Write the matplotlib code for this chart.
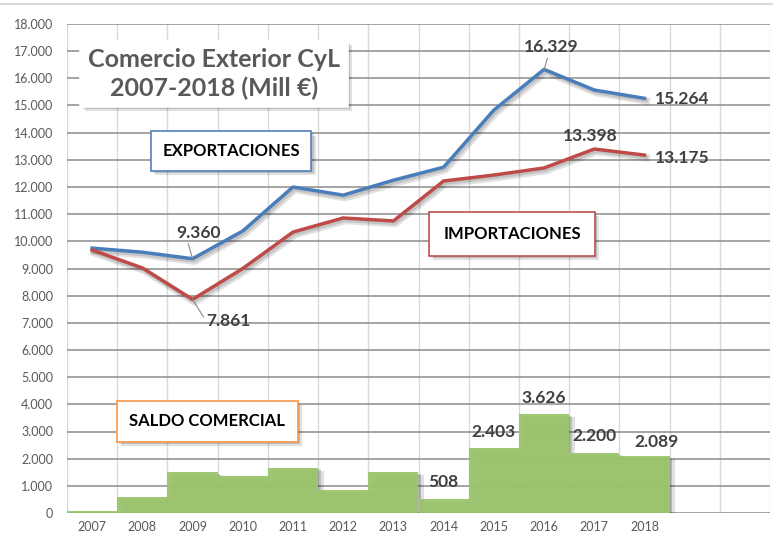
import matplotlib
matplotlib.use("Agg")
import matplotlib.pyplot as plt
import matplotlib.patheffects as pe
from matplotlib.ticker import FuncFormatter, FixedLocator
import numpy as np

plt.rcParams['font.family'] = ['Lato', 'DejaVu Sans']

years = ['2007', '2008', '2009', '2010', '2011', '2012', '2013', '2014', '2015', '2016', '2017', '2018']
exportaciones = [9750, 9600, 9360, 10380, 12000, 11700, 12250, 12730, 14830, 16329, 15570, 15264]
importaciones = [9680, 9020, 7861, 9000, 10340, 10860, 10750, 12220, 12440, 12700, 13398, 13175]
saldo = [70, 590, 1500, 1380, 1660, 830, 1500, 508, 2403, 3626, 2200, 2089]
n_slots = 14

fig = plt.figure(figsize=(7.73, 5.33), dpi=100)
ax = fig.add_axes([67/773, 1-513/533, (770-67)/773, (513-24)/533])

x = np.arange(len(years))
green = '#9bc46c'
blue = '#4a7ebb'
red = '#be4b48'

shadow_line = [pe.SimpleLineShadow(offset=(1.5, -2), alpha=0.12, shadow_color='k', linewidth=5),
               pe.SimpleLineShadow(offset=(1, -1.5), alpha=0.12, shadow_color='k', linewidth=3),
               pe.Normal()]
shadow_patch = [pe.SimplePatchShadow(offset=(4, -2), alpha=0.12, shadow_rgbFace='k'),
                pe.SimplePatchShadow(offset=(2, -1), alpha=0.15, shadow_rgbFace='k'),
                pe.Normal()]

bars = ax.bar(x, saldo, width=1.0, color=green, zorder=3, alpha=0.95, linewidth=0)
for b in bars:
    b.set_path_effects(shadow_patch)

ax.plot(x, exportaciones, color=blue, lw=2.5, zorder=5, path_effects=shadow_line, solid_joinstyle='round')
ax.plot(x, importaciones, color=red, lw=2.5, zorder=5, path_effects=shadow_line, solid_joinstyle='round')

ax.set_xlim(-0.5, n_slots - 0.5)
ax.set_ylim(0, 18000)
ax.set_yticks(np.arange(0, 18001, 1000))
ax.yaxis.set_major_formatter(FuncFormatter(lambda v, p: f"{int(v):,}".replace(',', '.')))
ax.set_xticks(x)
ax.set_xticklabels(years)
ax.xaxis.set_minor_locator(FixedLocator(np.arange(-0.5, n_slots, 1.0)))
ax.tick_params(axis='both', which='both', length=0, labelsize=9, labelcolor='#595959')
ax.tick_params(axis='y', pad=10)
ax.tick_params(axis='x', pad=6)
ax.grid(axis='y', which='major', color='#8c8c8c', lw=1.1, zorder=2)
ax.grid(axis='x', which='minor', color='#d9d9d9', lw=1.0, zorder=1)
ax.set_axisbelow(True)
for s in ax.spines.values():
    s.set_visible(False)

lab = dict(fontsize=12.5, fontweight='bold', color='#404040', ha='center', va='center', zorder=10)

def ann(xi, yv, txt, dx, dy, leader=None):
    kw = {}
    if leader is not None:
        kw['arrowprops'] = dict(arrowstyle='-', color='#8c8c8c', lw=0.8, shrinkA=0, shrinkB=0,
                                relpos=leader)
    ax.annotate(txt, (xi, yv), xytext=(dx, dy), textcoords='offset pixels', **lab, **kw)

fmt = lambda v: f"{v:,}".replace(',', '.')
ann(2, exportaciones[2], fmt(exportaciones[2]), 6, 26, leader=(0.25, 0.0))
ann(2, importaciones[2], fmt(importaciones[2]), 36, -22, leader=(0.0, 0.5))
ann(9, exportaciones[9], fmt(exportaciones[9]), 7, 22, leader=(0.45, 0.0))
ann(11, exportaciones[11], fmt(exportaciones[11]), 38, -1)
ann(10, importaciones[10], fmt(importaciones[10]), -4, 13)
ann(11, importaciones[11], fmt(importaciones[11]), 38, -3)
bar_offsets = {7: (0, 17), 8: (0, 16), 9: (0, 16), 10: (0, 17), 11: (12, 14)}
for i, (dx, dy) in bar_offsets.items():
    ann(i, saldo[i], fmt(saldo[i]), dx, dy)

def boxtext(cx, cy, txt, fs, color, edge, pad, fw='bold', ls=1.0):
    t = fig.text(cx/773, 1-cy/533, txt, fontsize=fs, fontweight=fw, color=color,
                 ha='center', va='center', zorder=20, linespacing=ls,
                 bbox=dict(boxstyle=f'square,pad={pad}', fc='white', ec=edge, lw=1.2))
    t.get_bbox_patch().set_path_effects([pe.SimplePatchShadow(offset=(3, -3), alpha=0.12, shadow_rgbFace='k'),
                                         pe.SimplePatchShadow(offset=(1.5, -1.5), alpha=0.15, shadow_rgbFace='k'),
                                         pe.Normal()])
    return t

boxtext(214, 74, 'Comercio Exterior CyL\n2007-2018 (Mill €)', 18, '#595959', 'white', 0.3, ls=1.25)
boxtext(231, 151, 'EXPORTACIONES', 12, 'black', '#4f81bd', 0.7)
boxtext(512, 234, 'IMPORTACIONES', 12, 'black', '#c0504d', 0.85)
boxtext(207, 421, 'SALDO COMERCIAL', 12, 'black', '#f79646', 0.75)

fig.add_artist(plt.Line2D([0, 1], [1-4/533, 1-4/533], color='#d9d9d9', lw=1.5, transform=fig.transFigure))

fig.savefig('out.png', dpi=100)
